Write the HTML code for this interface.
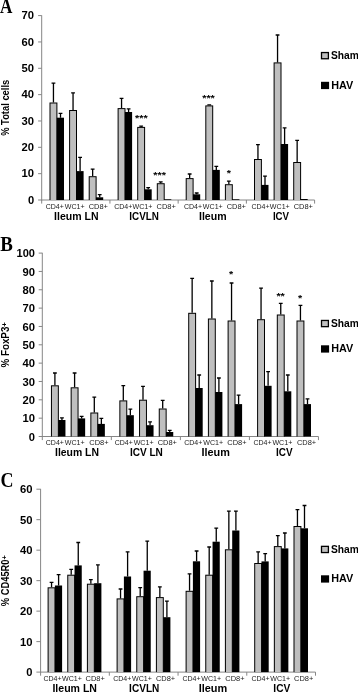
<!DOCTYPE html>
<html><head><meta charset="utf-8"><title>chart</title>
<style>html,body{margin:0;padding:0;background:#fff;overflow:hidden;}svg{display:block;will-change:transform;}</style></head>
<body><svg width="358" height="692" viewBox="0 0 358 692">
<rect width="358" height="692" fill="#fff"/>
<path d="M41.70 15.30V200.50M41.20 200.00H314.60" stroke="#868686" stroke-width="1" fill="none"/>
<path d="M38.10 200.00H41.70" stroke="#868686" stroke-width="1"/>
<text x="34.10" y="203.60" font-family="'Liberation Sans', sans-serif" font-size="10" font-weight="bold" text-anchor="end" fill="#000" textLength="6.2" lengthAdjust="spacingAndGlyphs">0</text>
<path d="M38.10 173.66H41.70" stroke="#868686" stroke-width="1"/>
<text x="34.10" y="177.26" font-family="'Liberation Sans', sans-serif" font-size="10" font-weight="bold" text-anchor="end" fill="#000" textLength="12.5" lengthAdjust="spacingAndGlyphs">10</text>
<path d="M38.10 147.31H41.70" stroke="#868686" stroke-width="1"/>
<text x="34.10" y="150.91" font-family="'Liberation Sans', sans-serif" font-size="10" font-weight="bold" text-anchor="end" fill="#000" textLength="12.5" lengthAdjust="spacingAndGlyphs">20</text>
<path d="M38.10 120.97H41.70" stroke="#868686" stroke-width="1"/>
<text x="34.10" y="124.57" font-family="'Liberation Sans', sans-serif" font-size="10" font-weight="bold" text-anchor="end" fill="#000" textLength="12.5" lengthAdjust="spacingAndGlyphs">30</text>
<path d="M38.10 94.63H41.70" stroke="#868686" stroke-width="1"/>
<text x="34.10" y="98.23" font-family="'Liberation Sans', sans-serif" font-size="10" font-weight="bold" text-anchor="end" fill="#000" textLength="12.5" lengthAdjust="spacingAndGlyphs">40</text>
<path d="M38.10 68.29H41.70" stroke="#868686" stroke-width="1"/>
<text x="34.10" y="71.89" font-family="'Liberation Sans', sans-serif" font-size="10" font-weight="bold" text-anchor="end" fill="#000" textLength="12.5" lengthAdjust="spacingAndGlyphs">50</text>
<path d="M38.10 41.94H41.70" stroke="#868686" stroke-width="1"/>
<text x="34.10" y="45.54" font-family="'Liberation Sans', sans-serif" font-size="10" font-weight="bold" text-anchor="end" fill="#000" textLength="12.5" lengthAdjust="spacingAndGlyphs">60</text>
<path d="M38.10 15.60H41.70" stroke="#868686" stroke-width="1"/>
<text x="34.10" y="19.20" font-family="'Liberation Sans', sans-serif" font-size="10" font-weight="bold" text-anchor="end" fill="#000" textLength="12.5" lengthAdjust="spacingAndGlyphs">70</text>
<path d="M41.70 200.00V203.60" stroke="#868686" stroke-width="1"/>
<path d="M109.93 200.00V203.60" stroke="#868686" stroke-width="1"/>
<path d="M178.15 200.00V203.60" stroke="#868686" stroke-width="1"/>
<path d="M246.38 200.00V203.60" stroke="#868686" stroke-width="1"/>
<path d="M314.60 200.00V203.60" stroke="#868686" stroke-width="1"/>
<g transform="translate(8.6 107.80) rotate(-90)">
<text x="0" y="0" font-family="'Liberation Sans', sans-serif" font-size="10" font-weight="bold" text-anchor="middle" textLength="56" lengthAdjust="spacingAndGlyphs">% Total cells</text>
</g>
<rect x="49.50" y="102.50" width="7.90" height="97.50" fill="#000"/>
<rect x="50.50" y="103.50" width="5.90" height="96.50" fill="#bfbfbf"/>
<rect x="56.80" y="117.70" width="7.20" height="82.30" fill="#000"/>
<path d="M53.45 102.50V82.80M51.55 83.20H55.35" stroke="#000" stroke-width="1.3" fill="none"/>
<path d="M60.50 117.70V113.00M58.60 113.40H62.40" stroke="#000" stroke-width="1.3" fill="none"/>
<rect x="69.10" y="110.00" width="7.90" height="90.00" fill="#000"/>
<rect x="70.10" y="111.00" width="5.90" height="89.00" fill="#bfbfbf"/>
<rect x="76.40" y="171.10" width="7.20" height="28.90" fill="#000"/>
<path d="M73.05 110.00V92.40M71.15 92.80H74.95" stroke="#000" stroke-width="1.3" fill="none"/>
<path d="M80.10 171.10V157.00M78.20 157.40H82.00" stroke="#000" stroke-width="1.3" fill="none"/>
<rect x="88.70" y="176.20" width="7.90" height="23.80" fill="#000"/>
<rect x="89.70" y="177.20" width="5.90" height="22.80" fill="#bfbfbf"/>
<rect x="96.00" y="197.30" width="7.20" height="2.70" fill="#000"/>
<path d="M92.65 176.20V168.80M90.75 169.20H94.55" stroke="#000" stroke-width="1.3" fill="none"/>
<path d="M99.70 197.30V194.30M97.80 194.70H101.60" stroke="#000" stroke-width="1.3" fill="none"/>
<rect x="117.60" y="108.10" width="7.90" height="91.90" fill="#000"/>
<rect x="118.60" y="109.10" width="5.90" height="90.90" fill="#bfbfbf"/>
<rect x="124.90" y="112.00" width="7.20" height="88.00" fill="#000"/>
<path d="M121.55 108.10V97.90M119.65 98.30H123.45" stroke="#000" stroke-width="1.3" fill="none"/>
<path d="M128.60 112.00V108.50M126.70 108.90H130.50" stroke="#000" stroke-width="1.3" fill="none"/>
<rect x="137.20" y="126.90" width="7.90" height="73.10" fill="#000"/>
<rect x="138.20" y="127.90" width="5.90" height="72.10" fill="#bfbfbf"/>
<rect x="144.50" y="189.30" width="7.20" height="10.70" fill="#000"/>
<path d="M141.15 126.90V125.80M139.25 126.20H143.05" stroke="#000" stroke-width="1.3" fill="none"/>
<path d="M148.20 189.30V187.20M146.30 187.60H150.10" stroke="#000" stroke-width="1.3" fill="none"/>
<rect x="156.80" y="183.20" width="7.90" height="16.80" fill="#000"/>
<rect x="157.80" y="184.20" width="5.90" height="15.80" fill="#bfbfbf"/>
<rect x="164.10" y="199.30" width="7.20" height="0.70" fill="#000"/>
<path d="M160.75 183.20V181.50M158.85 181.90H162.65" stroke="#000" stroke-width="1.3" fill="none"/>
<rect x="185.70" y="178.10" width="7.90" height="21.90" fill="#000"/>
<rect x="186.70" y="179.10" width="5.90" height="20.90" fill="#bfbfbf"/>
<rect x="193.00" y="194.30" width="7.20" height="5.70" fill="#000"/>
<path d="M189.65 178.10V173.60M187.75 174.00H191.55" stroke="#000" stroke-width="1.3" fill="none"/>
<path d="M196.70 194.30V192.60M194.80 193.00H198.60" stroke="#000" stroke-width="1.3" fill="none"/>
<rect x="205.30" y="105.40" width="7.90" height="94.60" fill="#000"/>
<rect x="206.30" y="106.40" width="5.90" height="93.60" fill="#bfbfbf"/>
<rect x="212.60" y="169.90" width="7.20" height="30.10" fill="#000"/>
<path d="M209.25 105.40V104.50M207.35 104.90H211.15" stroke="#000" stroke-width="1.3" fill="none"/>
<path d="M216.30 169.90V166.00M214.40 166.40H218.20" stroke="#000" stroke-width="1.3" fill="none"/>
<rect x="224.90" y="184.20" width="7.90" height="15.80" fill="#000"/>
<rect x="225.90" y="185.20" width="5.90" height="14.80" fill="#bfbfbf"/>
<rect x="232.20" y="199.30" width="7.20" height="0.70" fill="#000"/>
<path d="M228.85 184.20V180.80M226.95 181.20H230.75" stroke="#000" stroke-width="1.3" fill="none"/>
<rect x="254.00" y="159.00" width="7.90" height="41.00" fill="#000"/>
<rect x="255.00" y="160.00" width="5.90" height="40.00" fill="#bfbfbf"/>
<rect x="261.30" y="184.90" width="7.20" height="15.10" fill="#000"/>
<path d="M257.95 159.00V144.30M256.05 144.70H259.85" stroke="#000" stroke-width="1.3" fill="none"/>
<path d="M265.00 184.90V175.80M263.10 176.20H266.90" stroke="#000" stroke-width="1.3" fill="none"/>
<rect x="273.60" y="62.40" width="7.90" height="137.60" fill="#000"/>
<rect x="274.60" y="63.40" width="5.90" height="136.60" fill="#bfbfbf"/>
<rect x="280.90" y="144.00" width="7.20" height="56.00" fill="#000"/>
<path d="M277.55 62.40V34.60M275.65 35.00H279.45" stroke="#000" stroke-width="1.3" fill="none"/>
<path d="M284.60 144.00V127.50M282.70 127.90H286.50" stroke="#000" stroke-width="1.3" fill="none"/>
<rect x="293.20" y="162.00" width="7.90" height="38.00" fill="#000"/>
<rect x="294.20" y="163.00" width="5.90" height="37.00" fill="#bfbfbf"/>
<rect x="300.50" y="199.00" width="7.20" height="1.00" fill="#000"/>
<path d="M297.15 162.00V140.00M295.25 140.40H299.05" stroke="#000" stroke-width="1.3" fill="none"/>
<text x="54.70" y="209.15" font-family="'Liberation Sans', sans-serif" font-size="7.6" font-weight="normal" text-anchor="middle" fill="#1a1a1a" textLength="18.1" lengthAdjust="spacingAndGlyphs">CD4+</text>
<text x="74.70" y="209.15" font-family="'Liberation Sans', sans-serif" font-size="7.6" font-weight="normal" text-anchor="middle" fill="#1a1a1a" textLength="19.9" lengthAdjust="spacingAndGlyphs">WC1+</text>
<text x="98.35" y="209.15" font-family="'Liberation Sans', sans-serif" font-size="7.6" font-weight="normal" text-anchor="middle" fill="#1a1a1a" textLength="19.3" lengthAdjust="spacingAndGlyphs">CD8+</text>
<text x="76.30" y="219.55" font-family="'Liberation Sans', sans-serif" font-size="10.5" font-weight="bold" text-anchor="middle" fill="#000" textLength="44.5" lengthAdjust="spacingAndGlyphs">Ileum LN</text>
<text x="123.20" y="209.15" font-family="'Liberation Sans', sans-serif" font-size="7.6" font-weight="normal" text-anchor="middle" fill="#1a1a1a" textLength="18.1" lengthAdjust="spacingAndGlyphs">CD4+</text>
<text x="142.50" y="209.15" font-family="'Liberation Sans', sans-serif" font-size="7.6" font-weight="normal" text-anchor="middle" fill="#1a1a1a" textLength="19.9" lengthAdjust="spacingAndGlyphs">WC1+</text>
<text x="166.20" y="209.15" font-family="'Liberation Sans', sans-serif" font-size="7.6" font-weight="normal" text-anchor="middle" fill="#1a1a1a" textLength="19.3" lengthAdjust="spacingAndGlyphs">CD8+</text>
<text x="144.10" y="219.55" font-family="'Liberation Sans', sans-serif" font-size="10.5" font-weight="bold" text-anchor="middle" fill="#000" textLength="29.6" lengthAdjust="spacingAndGlyphs">ICVLN</text>
<text x="193.00" y="209.15" font-family="'Liberation Sans', sans-serif" font-size="7.6" font-weight="normal" text-anchor="middle" fill="#1a1a1a" textLength="18.1" lengthAdjust="spacingAndGlyphs">CD4+</text>
<text x="212.80" y="209.15" font-family="'Liberation Sans', sans-serif" font-size="7.6" font-weight="normal" text-anchor="middle" fill="#1a1a1a" textLength="19.9" lengthAdjust="spacingAndGlyphs">WC1+</text>
<text x="236.30" y="209.15" font-family="'Liberation Sans', sans-serif" font-size="7.6" font-weight="normal" text-anchor="middle" fill="#1a1a1a" textLength="19.3" lengthAdjust="spacingAndGlyphs">CD8+</text>
<text x="212.80" y="219.55" font-family="'Liberation Sans', sans-serif" font-size="10.5" font-weight="bold" text-anchor="middle" fill="#000" textLength="27.6" lengthAdjust="spacingAndGlyphs">Ileum</text>
<text x="260.45" y="209.15" font-family="'Liberation Sans', sans-serif" font-size="7.6" font-weight="normal" text-anchor="middle" fill="#1a1a1a" textLength="18.1" lengthAdjust="spacingAndGlyphs">CD4+</text>
<text x="279.80" y="209.15" font-family="'Liberation Sans', sans-serif" font-size="7.6" font-weight="normal" text-anchor="middle" fill="#1a1a1a" textLength="19.9" lengthAdjust="spacingAndGlyphs">WC1+</text>
<text x="303.30" y="209.15" font-family="'Liberation Sans', sans-serif" font-size="7.6" font-weight="normal" text-anchor="middle" fill="#1a1a1a" textLength="19.3" lengthAdjust="spacingAndGlyphs">CD8+</text>
<text x="281.00" y="219.55" font-family="'Liberation Sans', sans-serif" font-size="10.5" font-weight="bold" text-anchor="middle" fill="#000" textLength="16.2" lengthAdjust="spacingAndGlyphs">ICV</text>
<text x="141.30" y="121.40" font-family="'Liberation Sans', sans-serif" font-size="9" font-weight="bold" text-anchor="middle" fill="#000" textLength="12.600000000000001" lengthAdjust="spacingAndGlyphs">***</text>
<text x="159.60" y="178.40" font-family="'Liberation Sans', sans-serif" font-size="9" font-weight="bold" text-anchor="middle" fill="#000" textLength="12.600000000000001" lengthAdjust="spacingAndGlyphs">***</text>
<text x="208.50" y="100.50" font-family="'Liberation Sans', sans-serif" font-size="9" font-weight="bold" text-anchor="middle" fill="#000" textLength="12.600000000000001" lengthAdjust="spacingAndGlyphs">***</text>
<text x="228.90" y="175.60" font-family="'Liberation Sans', sans-serif" font-size="9" font-weight="bold" text-anchor="middle" fill="#000" textLength="4.2" lengthAdjust="spacingAndGlyphs">*</text>
<rect x="321.5" y="52.55" width="6.9" height="6.2" fill="#bfbfbf" stroke="#000" stroke-width="1.3"/>
<text x="331.00" y="58.80" font-family="'Liberation Sans', sans-serif" font-size="11" font-weight="bold" text-anchor="start" fill="#000" textLength="27.9" lengthAdjust="spacingAndGlyphs">Sham</text>
<rect x="321.0" y="81.80" width="8.1" height="7.3" fill="#000"/>
<text x="331.30" y="88.60" font-family="'Liberation Sans', sans-serif" font-size="11" font-weight="bold" text-anchor="start" fill="#000" textLength="22" lengthAdjust="spacingAndGlyphs">HAV</text>
<text x="0.10" y="12.75" font-family="'Liberation Serif', sans-serif" font-size="20" font-weight="bold" text-anchor="start" fill="#000" textLength="12.4" lengthAdjust="spacingAndGlyphs">A</text>
<path d="M42.30 252.80V437.00M41.80 436.50H318.45" stroke="#868686" stroke-width="1" fill="none"/>
<path d="M38.70 436.50H42.30" stroke="#868686" stroke-width="1"/>
<text x="35.00" y="440.70" font-family="'Liberation Sans', sans-serif" font-size="10" font-weight="bold" text-anchor="end" fill="#000" textLength="6.2" lengthAdjust="spacingAndGlyphs">0</text>
<path d="M38.70 418.16H42.30" stroke="#868686" stroke-width="1"/>
<text x="35.00" y="422.36" font-family="'Liberation Sans', sans-serif" font-size="10" font-weight="bold" text-anchor="end" fill="#000" textLength="12.5" lengthAdjust="spacingAndGlyphs">10</text>
<path d="M38.70 399.82H42.30" stroke="#868686" stroke-width="1"/>
<text x="35.00" y="404.02" font-family="'Liberation Sans', sans-serif" font-size="10" font-weight="bold" text-anchor="end" fill="#000" textLength="12.5" lengthAdjust="spacingAndGlyphs">20</text>
<path d="M38.70 381.48H42.30" stroke="#868686" stroke-width="1"/>
<text x="35.00" y="385.68" font-family="'Liberation Sans', sans-serif" font-size="10" font-weight="bold" text-anchor="end" fill="#000" textLength="12.5" lengthAdjust="spacingAndGlyphs">30</text>
<path d="M38.70 363.14H42.30" stroke="#868686" stroke-width="1"/>
<text x="35.00" y="367.34" font-family="'Liberation Sans', sans-serif" font-size="10" font-weight="bold" text-anchor="end" fill="#000" textLength="12.5" lengthAdjust="spacingAndGlyphs">40</text>
<path d="M38.70 344.80H42.30" stroke="#868686" stroke-width="1"/>
<text x="35.00" y="349.00" font-family="'Liberation Sans', sans-serif" font-size="10" font-weight="bold" text-anchor="end" fill="#000" textLength="12.5" lengthAdjust="spacingAndGlyphs">50</text>
<path d="M38.70 326.46H42.30" stroke="#868686" stroke-width="1"/>
<text x="35.00" y="330.66" font-family="'Liberation Sans', sans-serif" font-size="10" font-weight="bold" text-anchor="end" fill="#000" textLength="12.5" lengthAdjust="spacingAndGlyphs">60</text>
<path d="M38.70 308.12H42.30" stroke="#868686" stroke-width="1"/>
<text x="35.00" y="312.32" font-family="'Liberation Sans', sans-serif" font-size="10" font-weight="bold" text-anchor="end" fill="#000" textLength="12.5" lengthAdjust="spacingAndGlyphs">70</text>
<path d="M38.70 289.78H42.30" stroke="#868686" stroke-width="1"/>
<text x="35.00" y="293.98" font-family="'Liberation Sans', sans-serif" font-size="10" font-weight="bold" text-anchor="end" fill="#000" textLength="12.5" lengthAdjust="spacingAndGlyphs">80</text>
<path d="M38.70 271.44H42.30" stroke="#868686" stroke-width="1"/>
<text x="35.00" y="275.64" font-family="'Liberation Sans', sans-serif" font-size="10" font-weight="bold" text-anchor="end" fill="#000" textLength="12.5" lengthAdjust="spacingAndGlyphs">90</text>
<path d="M38.70 253.10H42.30" stroke="#868686" stroke-width="1"/>
<text x="35.00" y="257.30" font-family="'Liberation Sans', sans-serif" font-size="10" font-weight="bold" text-anchor="end" fill="#000" textLength="18.4" lengthAdjust="spacingAndGlyphs">100</text>
<path d="M42.30 436.50V440.10" stroke="#868686" stroke-width="1"/>
<path d="M111.34 436.50V440.10" stroke="#868686" stroke-width="1"/>
<path d="M180.38 436.50V440.10" stroke="#868686" stroke-width="1"/>
<path d="M249.41 436.50V440.10" stroke="#868686" stroke-width="1"/>
<path d="M318.45 436.50V440.10" stroke="#868686" stroke-width="1"/>
<g transform="translate(8.6 344.80) rotate(-90)">
<text x="0" y="0" font-family="'Liberation Sans', sans-serif" font-size="10" font-weight="bold" text-anchor="middle" textLength="45.5" lengthAdjust="spacingAndGlyphs">% FoxP3<tspan font-size="8" dy="-1.5">+</tspan></text>
</g>
<rect x="50.95" y="385.30" width="7.90" height="51.20" fill="#000"/>
<rect x="51.95" y="386.30" width="5.90" height="50.20" fill="#bfbfbf"/>
<rect x="58.25" y="420.00" width="7.20" height="16.50" fill="#000"/>
<path d="M54.90 385.30V372.60M53.00 373.00H56.80" stroke="#000" stroke-width="1.3" fill="none"/>
<path d="M61.95 420.00V417.40M60.05 417.80H63.85" stroke="#000" stroke-width="1.3" fill="none"/>
<rect x="70.65" y="387.30" width="7.90" height="49.20" fill="#000"/>
<rect x="71.65" y="388.30" width="5.90" height="48.20" fill="#bfbfbf"/>
<rect x="77.95" y="418.40" width="7.20" height="18.10" fill="#000"/>
<path d="M74.60 387.30V372.60M72.70 373.00H76.50" stroke="#000" stroke-width="1.3" fill="none"/>
<path d="M81.65 418.40V416.00M79.75 416.40H83.55" stroke="#000" stroke-width="1.3" fill="none"/>
<rect x="90.35" y="412.50" width="7.90" height="24.00" fill="#000"/>
<rect x="91.35" y="413.50" width="5.90" height="23.00" fill="#bfbfbf"/>
<rect x="97.65" y="423.90" width="7.20" height="12.60" fill="#000"/>
<path d="M94.30 412.50V396.70M92.40 397.10H96.20" stroke="#000" stroke-width="1.3" fill="none"/>
<path d="M101.35 423.90V417.90M99.45 418.30H103.25" stroke="#000" stroke-width="1.3" fill="none"/>
<rect x="119.35" y="400.40" width="7.90" height="36.10" fill="#000"/>
<rect x="120.35" y="401.40" width="5.90" height="35.10" fill="#bfbfbf"/>
<rect x="126.65" y="415.20" width="7.20" height="21.30" fill="#000"/>
<path d="M123.30 400.40V385.30M121.40 385.70H125.20" stroke="#000" stroke-width="1.3" fill="none"/>
<path d="M130.35 415.20V408.80M128.45 409.20H132.25" stroke="#000" stroke-width="1.3" fill="none"/>
<rect x="139.05" y="399.70" width="7.90" height="36.80" fill="#000"/>
<rect x="140.05" y="400.70" width="5.90" height="35.80" fill="#bfbfbf"/>
<rect x="146.35" y="425.20" width="7.20" height="11.30" fill="#000"/>
<path d="M143.00 399.70V386.00M141.10 386.40H144.90" stroke="#000" stroke-width="1.3" fill="none"/>
<path d="M150.05 425.20V421.50M148.15 421.90H151.95" stroke="#000" stroke-width="1.3" fill="none"/>
<rect x="158.75" y="408.50" width="7.90" height="28.00" fill="#000"/>
<rect x="159.75" y="409.50" width="5.90" height="27.00" fill="#bfbfbf"/>
<rect x="166.05" y="432.00" width="7.20" height="4.50" fill="#000"/>
<path d="M162.70 408.50V400.00M160.80 400.40H164.60" stroke="#000" stroke-width="1.3" fill="none"/>
<path d="M169.75 432.00V430.00M167.85 430.40H171.65" stroke="#000" stroke-width="1.3" fill="none"/>
<rect x="188.20" y="312.80" width="7.90" height="123.70" fill="#000"/>
<rect x="189.20" y="313.80" width="5.90" height="122.70" fill="#bfbfbf"/>
<rect x="195.50" y="388.00" width="7.20" height="48.50" fill="#000"/>
<path d="M192.15 312.80V278.00M190.25 278.40H194.05" stroke="#000" stroke-width="1.3" fill="none"/>
<path d="M199.20 388.00V374.60M197.30 375.00H201.10" stroke="#000" stroke-width="1.3" fill="none"/>
<rect x="207.90" y="318.50" width="7.90" height="118.00" fill="#000"/>
<rect x="208.90" y="319.50" width="5.90" height="117.00" fill="#bfbfbf"/>
<rect x="215.20" y="392.00" width="7.20" height="44.50" fill="#000"/>
<path d="M211.85 318.50V280.60M209.95 281.00H213.75" stroke="#000" stroke-width="1.3" fill="none"/>
<path d="M218.90 392.00V377.60M217.00 378.00H220.80" stroke="#000" stroke-width="1.3" fill="none"/>
<rect x="227.60" y="320.50" width="7.90" height="116.00" fill="#000"/>
<rect x="228.60" y="321.50" width="5.90" height="115.00" fill="#bfbfbf"/>
<rect x="234.90" y="404.10" width="7.20" height="32.40" fill="#000"/>
<path d="M231.55 320.50V282.60M229.65 283.00H233.45" stroke="#000" stroke-width="1.3" fill="none"/>
<path d="M238.60 404.10V394.70M236.70 395.10H240.50" stroke="#000" stroke-width="1.3" fill="none"/>
<rect x="257.10" y="319.20" width="7.90" height="117.30" fill="#000"/>
<rect x="258.10" y="320.20" width="5.90" height="116.30" fill="#bfbfbf"/>
<rect x="264.40" y="385.80" width="7.20" height="50.70" fill="#000"/>
<path d="M261.05 319.20V287.70M259.15 288.10H262.95" stroke="#000" stroke-width="1.3" fill="none"/>
<path d="M268.10 385.80V371.20M266.20 371.60H270.00" stroke="#000" stroke-width="1.3" fill="none"/>
<rect x="276.80" y="314.50" width="7.90" height="122.00" fill="#000"/>
<rect x="277.80" y="315.50" width="5.90" height="121.00" fill="#bfbfbf"/>
<rect x="284.10" y="391.30" width="7.20" height="45.20" fill="#000"/>
<path d="M280.75 314.50V303.00M278.85 303.40H282.65" stroke="#000" stroke-width="1.3" fill="none"/>
<path d="M287.80 391.30V374.60M285.90 375.00H289.70" stroke="#000" stroke-width="1.3" fill="none"/>
<rect x="296.50" y="320.50" width="7.90" height="116.00" fill="#000"/>
<rect x="297.50" y="321.50" width="5.90" height="115.00" fill="#bfbfbf"/>
<rect x="303.80" y="404.10" width="7.20" height="32.40" fill="#000"/>
<path d="M300.45 320.50V305.00M298.55 305.40H302.35" stroke="#000" stroke-width="1.3" fill="none"/>
<path d="M307.50 404.10V398.40M305.60 398.80H309.40" stroke="#000" stroke-width="1.3" fill="none"/>
<text x="54.85" y="445.35" font-family="'Liberation Sans', sans-serif" font-size="7.6" font-weight="normal" text-anchor="middle" fill="#1a1a1a" textLength="18.1" lengthAdjust="spacingAndGlyphs">CD4+</text>
<text x="74.75" y="445.35" font-family="'Liberation Sans', sans-serif" font-size="7.6" font-weight="normal" text-anchor="middle" fill="#1a1a1a" textLength="19.9" lengthAdjust="spacingAndGlyphs">WC1+</text>
<text x="98.95" y="445.35" font-family="'Liberation Sans', sans-serif" font-size="7.6" font-weight="normal" text-anchor="middle" fill="#1a1a1a" textLength="19.3" lengthAdjust="spacingAndGlyphs">CD8+</text>
<text x="77.00" y="455.90" font-family="'Liberation Sans', sans-serif" font-size="10.5" font-weight="bold" text-anchor="middle" fill="#000" textLength="44.0" lengthAdjust="spacingAndGlyphs">Ileum LN</text>
<text x="123.75" y="445.35" font-family="'Liberation Sans', sans-serif" font-size="7.6" font-weight="normal" text-anchor="middle" fill="#1a1a1a" textLength="18.1" lengthAdjust="spacingAndGlyphs">CD4+</text>
<text x="143.60" y="445.35" font-family="'Liberation Sans', sans-serif" font-size="7.6" font-weight="normal" text-anchor="middle" fill="#1a1a1a" textLength="19.9" lengthAdjust="spacingAndGlyphs">WC1+</text>
<text x="167.35" y="445.35" font-family="'Liberation Sans', sans-serif" font-size="7.6" font-weight="normal" text-anchor="middle" fill="#1a1a1a" textLength="19.3" lengthAdjust="spacingAndGlyphs">CD8+</text>
<text x="146.40" y="455.90" font-family="'Liberation Sans', sans-serif" font-size="10.5" font-weight="bold" text-anchor="middle" fill="#000" textLength="33.0" lengthAdjust="spacingAndGlyphs">ICV LN</text>
<text x="193.25" y="445.35" font-family="'Liberation Sans', sans-serif" font-size="7.6" font-weight="normal" text-anchor="middle" fill="#1a1a1a" textLength="18.1" lengthAdjust="spacingAndGlyphs">CD4+</text>
<text x="213.25" y="445.35" font-family="'Liberation Sans', sans-serif" font-size="7.6" font-weight="normal" text-anchor="middle" fill="#1a1a1a" textLength="19.9" lengthAdjust="spacingAndGlyphs">WC1+</text>
<text x="236.95" y="445.35" font-family="'Liberation Sans', sans-serif" font-size="7.6" font-weight="normal" text-anchor="middle" fill="#1a1a1a" textLength="19.3" lengthAdjust="spacingAndGlyphs">CD8+</text>
<text x="215.70" y="455.90" font-family="'Liberation Sans', sans-serif" font-size="10.5" font-weight="bold" text-anchor="middle" fill="#000" textLength="28.4" lengthAdjust="spacingAndGlyphs">Ileum</text>
<text x="262.45" y="445.35" font-family="'Liberation Sans', sans-serif" font-size="7.6" font-weight="normal" text-anchor="middle" fill="#1a1a1a" textLength="18.1" lengthAdjust="spacingAndGlyphs">CD4+</text>
<text x="282.35" y="445.35" font-family="'Liberation Sans', sans-serif" font-size="7.6" font-weight="normal" text-anchor="middle" fill="#1a1a1a" textLength="19.9" lengthAdjust="spacingAndGlyphs">WC1+</text>
<text x="306.55" y="445.35" font-family="'Liberation Sans', sans-serif" font-size="7.6" font-weight="normal" text-anchor="middle" fill="#1a1a1a" textLength="19.3" lengthAdjust="spacingAndGlyphs">CD8+</text>
<text x="284.40" y="455.90" font-family="'Liberation Sans', sans-serif" font-size="10.5" font-weight="bold" text-anchor="middle" fill="#000" textLength="16.6" lengthAdjust="spacingAndGlyphs">ICV</text>
<text x="231.20" y="277.10" font-family="'Liberation Sans', sans-serif" font-size="9" font-weight="bold" text-anchor="middle" fill="#000" textLength="4.2" lengthAdjust="spacingAndGlyphs">*</text>
<text x="280.60" y="298.80" font-family="'Liberation Sans', sans-serif" font-size="9" font-weight="bold" text-anchor="middle" fill="#000" textLength="8.4" lengthAdjust="spacingAndGlyphs">**</text>
<text x="300.20" y="301.10" font-family="'Liberation Sans', sans-serif" font-size="9" font-weight="bold" text-anchor="middle" fill="#000" textLength="4.2" lengthAdjust="spacingAndGlyphs">*</text>
<rect x="321.5" y="320.45" width="6.9" height="6.2" fill="#bfbfbf" stroke="#000" stroke-width="1.3"/>
<text x="331.00" y="326.70" font-family="'Liberation Sans', sans-serif" font-size="11" font-weight="bold" text-anchor="start" fill="#000" textLength="27.9" lengthAdjust="spacingAndGlyphs">Sham</text>
<rect x="321.0" y="345.30" width="8.1" height="7.3" fill="#000"/>
<text x="331.30" y="352.10" font-family="'Liberation Sans', sans-serif" font-size="11" font-weight="bold" text-anchor="start" fill="#000" textLength="22" lengthAdjust="spacingAndGlyphs">HAV</text>
<text x="0.30" y="251.10" font-family="'Liberation Serif', sans-serif" font-size="20" font-weight="bold" text-anchor="start" fill="#000" textLength="12.6" lengthAdjust="spacingAndGlyphs">B</text>
<path d="M40.60 488.90V672.60M40.10 672.10H315.50" stroke="#868686" stroke-width="1" fill="none"/>
<path d="M36.40 672.10H40.60" stroke="#868686" stroke-width="1"/>
<text x="32.50" y="676.10" font-family="'Liberation Sans', sans-serif" font-size="10" font-weight="bold" text-anchor="end" fill="#000" textLength="6.2" lengthAdjust="spacingAndGlyphs">0</text>
<path d="M36.40 641.62H40.60" stroke="#868686" stroke-width="1"/>
<text x="32.50" y="645.62" font-family="'Liberation Sans', sans-serif" font-size="10" font-weight="bold" text-anchor="end" fill="#000" textLength="12.5" lengthAdjust="spacingAndGlyphs">10</text>
<path d="M36.40 611.13H40.60" stroke="#868686" stroke-width="1"/>
<text x="32.50" y="615.13" font-family="'Liberation Sans', sans-serif" font-size="10" font-weight="bold" text-anchor="end" fill="#000" textLength="12.5" lengthAdjust="spacingAndGlyphs">20</text>
<path d="M36.40 580.65H40.60" stroke="#868686" stroke-width="1"/>
<text x="32.50" y="584.65" font-family="'Liberation Sans', sans-serif" font-size="10" font-weight="bold" text-anchor="end" fill="#000" textLength="12.5" lengthAdjust="spacingAndGlyphs">30</text>
<path d="M36.40 550.17H40.60" stroke="#868686" stroke-width="1"/>
<text x="32.50" y="554.17" font-family="'Liberation Sans', sans-serif" font-size="10" font-weight="bold" text-anchor="end" fill="#000" textLength="12.5" lengthAdjust="spacingAndGlyphs">40</text>
<path d="M36.40 519.68H40.60" stroke="#868686" stroke-width="1"/>
<text x="32.50" y="523.68" font-family="'Liberation Sans', sans-serif" font-size="10" font-weight="bold" text-anchor="end" fill="#000" textLength="12.5" lengthAdjust="spacingAndGlyphs">50</text>
<path d="M36.40 489.20H40.60" stroke="#868686" stroke-width="1"/>
<text x="32.50" y="493.20" font-family="'Liberation Sans', sans-serif" font-size="10" font-weight="bold" text-anchor="end" fill="#000" textLength="12.5" lengthAdjust="spacingAndGlyphs">60</text>
<path d="M40.60 672.10V675.70" stroke="#868686" stroke-width="1"/>
<path d="M109.32 672.10V675.70" stroke="#868686" stroke-width="1"/>
<path d="M178.05 672.10V675.70" stroke="#868686" stroke-width="1"/>
<path d="M246.77 672.10V675.70" stroke="#868686" stroke-width="1"/>
<path d="M315.50 672.10V675.70" stroke="#868686" stroke-width="1"/>
<g transform="translate(8.6 580.65) rotate(-90)">
<text x="0" y="0" font-family="'Liberation Sans', sans-serif" font-size="10" font-weight="bold" text-anchor="middle" textLength="51.0" lengthAdjust="spacingAndGlyphs">% CD45R0<tspan font-size="8" dy="-1.5">+</tspan></text>
</g>
<rect x="47.60" y="587.30" width="7.90" height="84.80" fill="#000"/>
<rect x="48.60" y="588.30" width="5.90" height="83.80" fill="#bfbfbf"/>
<rect x="54.90" y="585.50" width="7.20" height="86.60" fill="#000"/>
<path d="M51.55 587.30V581.90M49.65 582.30H53.45" stroke="#000" stroke-width="1.3" fill="none"/>
<path d="M58.60 585.50V574.30M56.70 574.70H60.50" stroke="#000" stroke-width="1.3" fill="none"/>
<rect x="67.25" y="574.70" width="7.90" height="97.40" fill="#000"/>
<rect x="68.25" y="575.70" width="5.90" height="96.40" fill="#bfbfbf"/>
<rect x="74.55" y="565.40" width="7.20" height="106.70" fill="#000"/>
<path d="M71.20 574.70V568.90M69.30 569.30H73.10" stroke="#000" stroke-width="1.3" fill="none"/>
<path d="M78.25 565.40V542.10M76.35 542.50H80.15" stroke="#000" stroke-width="1.3" fill="none"/>
<rect x="86.90" y="583.70" width="7.90" height="88.40" fill="#000"/>
<rect x="87.90" y="584.70" width="5.90" height="87.40" fill="#bfbfbf"/>
<rect x="94.20" y="583.20" width="7.20" height="88.90" fill="#000"/>
<path d="M90.85 583.70V579.20M88.95 579.60H92.75" stroke="#000" stroke-width="1.3" fill="none"/>
<path d="M97.90 583.20V564.50M96.00 564.90H99.80" stroke="#000" stroke-width="1.3" fill="none"/>
<rect x="116.60" y="598.40" width="7.90" height="73.70" fill="#000"/>
<rect x="117.60" y="599.40" width="5.90" height="72.70" fill="#bfbfbf"/>
<rect x="123.90" y="576.50" width="7.20" height="95.60" fill="#000"/>
<path d="M120.55 598.40V588.60M118.65 589.00H122.45" stroke="#000" stroke-width="1.3" fill="none"/>
<path d="M127.60 576.50V551.50M125.70 551.90H129.50" stroke="#000" stroke-width="1.3" fill="none"/>
<rect x="136.25" y="596.20" width="7.90" height="75.90" fill="#000"/>
<rect x="137.25" y="597.20" width="5.90" height="74.90" fill="#bfbfbf"/>
<rect x="143.55" y="570.70" width="7.20" height="101.40" fill="#000"/>
<path d="M140.20 596.20V587.30M138.30 587.70H142.10" stroke="#000" stroke-width="1.3" fill="none"/>
<path d="M147.25 570.70V540.80M145.35 541.20H149.15" stroke="#000" stroke-width="1.3" fill="none"/>
<rect x="155.90" y="597.10" width="7.90" height="75.00" fill="#000"/>
<rect x="156.90" y="598.10" width="5.90" height="74.00" fill="#bfbfbf"/>
<rect x="163.20" y="617.20" width="7.20" height="54.90" fill="#000"/>
<path d="M159.85 597.10V586.40M157.95 586.80H161.75" stroke="#000" stroke-width="1.3" fill="none"/>
<path d="M166.90 617.20V600.70M165.00 601.10H168.80" stroke="#000" stroke-width="1.3" fill="none"/>
<rect x="185.60" y="590.80" width="7.90" height="81.30" fill="#000"/>
<rect x="186.60" y="591.80" width="5.90" height="80.30" fill="#bfbfbf"/>
<rect x="192.90" y="561.30" width="7.20" height="110.80" fill="#000"/>
<path d="M189.55 590.80V573.40M187.65 573.80H191.45" stroke="#000" stroke-width="1.3" fill="none"/>
<path d="M196.60 561.30V550.60M194.70 551.00H198.50" stroke="#000" stroke-width="1.3" fill="none"/>
<rect x="205.25" y="574.70" width="7.90" height="97.40" fill="#000"/>
<rect x="206.25" y="575.70" width="5.90" height="96.40" fill="#bfbfbf"/>
<rect x="212.55" y="541.70" width="7.20" height="130.40" fill="#000"/>
<path d="M209.20 574.70V546.60M207.30 547.00H211.10" stroke="#000" stroke-width="1.3" fill="none"/>
<path d="M216.25 541.70V527.80M214.35 528.20H218.15" stroke="#000" stroke-width="1.3" fill="none"/>
<rect x="224.90" y="549.30" width="7.90" height="122.80" fill="#000"/>
<rect x="225.90" y="550.30" width="5.90" height="121.80" fill="#bfbfbf"/>
<rect x="232.20" y="530.50" width="7.20" height="141.60" fill="#000"/>
<path d="M228.85 549.30V510.80M226.95 511.20H230.75" stroke="#000" stroke-width="1.3" fill="none"/>
<path d="M235.90 530.50V510.80M234.00 511.20H237.80" stroke="#000" stroke-width="1.3" fill="none"/>
<rect x="254.20" y="563.00" width="7.90" height="109.10" fill="#000"/>
<rect x="255.20" y="564.00" width="5.90" height="108.10" fill="#bfbfbf"/>
<rect x="261.50" y="561.40" width="7.20" height="110.70" fill="#000"/>
<path d="M258.15 563.00V551.50M256.25 551.90H260.05" stroke="#000" stroke-width="1.3" fill="none"/>
<path d="M265.20 561.40V553.30M263.30 553.70H267.10" stroke="#000" stroke-width="1.3" fill="none"/>
<rect x="273.85" y="546.10" width="7.90" height="126.00" fill="#000"/>
<rect x="274.85" y="547.10" width="5.90" height="125.00" fill="#bfbfbf"/>
<rect x="281.15" y="548.40" width="7.20" height="123.70" fill="#000"/>
<path d="M277.80 546.10V535.30M275.90 535.70H279.70" stroke="#000" stroke-width="1.3" fill="none"/>
<path d="M284.85 548.40V532.60M282.95 533.00H286.75" stroke="#000" stroke-width="1.3" fill="none"/>
<rect x="293.50" y="526.00" width="7.90" height="146.10" fill="#000"/>
<rect x="294.50" y="527.00" width="5.90" height="145.10" fill="#bfbfbf"/>
<rect x="300.80" y="528.30" width="7.20" height="143.80" fill="#000"/>
<path d="M297.45 526.00V509.30M295.55 509.70H299.35" stroke="#000" stroke-width="1.3" fill="none"/>
<path d="M304.50 528.30V505.10M302.60 505.50H306.40" stroke="#000" stroke-width="1.3" fill="none"/>
<text x="52.45" y="681.40" font-family="'Liberation Sans', sans-serif" font-size="7.6" font-weight="normal" text-anchor="middle" fill="#1a1a1a" textLength="18.1" lengthAdjust="spacingAndGlyphs">CD4+</text>
<text x="71.95" y="681.40" font-family="'Liberation Sans', sans-serif" font-size="7.6" font-weight="normal" text-anchor="middle" fill="#1a1a1a" textLength="19.9" lengthAdjust="spacingAndGlyphs">WC1+</text>
<text x="95.15" y="681.40" font-family="'Liberation Sans', sans-serif" font-size="7.6" font-weight="normal" text-anchor="middle" fill="#1a1a1a" textLength="19.3" lengthAdjust="spacingAndGlyphs">CD8+</text>
<text x="74.70" y="691.90" font-family="'Liberation Sans', sans-serif" font-size="10.5" font-weight="bold" text-anchor="middle" fill="#000" textLength="44.6" lengthAdjust="spacingAndGlyphs">Ileum LN</text>
<text x="122.25" y="681.40" font-family="'Liberation Sans', sans-serif" font-size="7.6" font-weight="normal" text-anchor="middle" fill="#1a1a1a" textLength="18.1" lengthAdjust="spacingAndGlyphs">CD4+</text>
<text x="142.00" y="681.40" font-family="'Liberation Sans', sans-serif" font-size="7.6" font-weight="normal" text-anchor="middle" fill="#1a1a1a" textLength="19.9" lengthAdjust="spacingAndGlyphs">WC1+</text>
<text x="165.55" y="681.40" font-family="'Liberation Sans', sans-serif" font-size="7.6" font-weight="normal" text-anchor="middle" fill="#1a1a1a" textLength="19.3" lengthAdjust="spacingAndGlyphs">CD8+</text>
<text x="144.20" y="691.90" font-family="'Liberation Sans', sans-serif" font-size="10.5" font-weight="bold" text-anchor="middle" fill="#000" textLength="30.2" lengthAdjust="spacingAndGlyphs">ICVLN</text>
<text x="191.50" y="681.40" font-family="'Liberation Sans', sans-serif" font-size="7.6" font-weight="normal" text-anchor="middle" fill="#1a1a1a" textLength="18.1" lengthAdjust="spacingAndGlyphs">CD4+</text>
<text x="211.20" y="681.40" font-family="'Liberation Sans', sans-serif" font-size="7.6" font-weight="normal" text-anchor="middle" fill="#1a1a1a" textLength="19.9" lengthAdjust="spacingAndGlyphs">WC1+</text>
<text x="234.95" y="681.40" font-family="'Liberation Sans', sans-serif" font-size="7.6" font-weight="normal" text-anchor="middle" fill="#1a1a1a" textLength="19.3" lengthAdjust="spacingAndGlyphs">CD8+</text>
<text x="213.00" y="691.90" font-family="'Liberation Sans', sans-serif" font-size="10.5" font-weight="bold" text-anchor="middle" fill="#000" textLength="28.6" lengthAdjust="spacingAndGlyphs">Ileum</text>
<text x="260.45" y="681.40" font-family="'Liberation Sans', sans-serif" font-size="7.6" font-weight="normal" text-anchor="middle" fill="#1a1a1a" textLength="18.1" lengthAdjust="spacingAndGlyphs">CD4+</text>
<text x="280.15" y="681.40" font-family="'Liberation Sans', sans-serif" font-size="7.6" font-weight="normal" text-anchor="middle" fill="#1a1a1a" textLength="19.9" lengthAdjust="spacingAndGlyphs">WC1+</text>
<text x="303.75" y="681.40" font-family="'Liberation Sans', sans-serif" font-size="7.6" font-weight="normal" text-anchor="middle" fill="#1a1a1a" textLength="19.3" lengthAdjust="spacingAndGlyphs">CD8+</text>
<text x="281.80" y="691.90" font-family="'Liberation Sans', sans-serif" font-size="10.5" font-weight="bold" text-anchor="middle" fill="#000" textLength="17.0" lengthAdjust="spacingAndGlyphs">ICV</text>
<rect x="321.5" y="546.35" width="6.9" height="6.2" fill="#bfbfbf" stroke="#000" stroke-width="1.3"/>
<text x="331.00" y="552.60" font-family="'Liberation Sans', sans-serif" font-size="11" font-weight="bold" text-anchor="start" fill="#000" textLength="27.9" lengthAdjust="spacingAndGlyphs">Sham</text>
<rect x="321.0" y="575.30" width="8.1" height="7.3" fill="#000"/>
<text x="331.30" y="582.10" font-family="'Liberation Sans', sans-serif" font-size="11" font-weight="bold" text-anchor="start" fill="#000" textLength="22" lengthAdjust="spacingAndGlyphs">HAV</text>
<text x="0.40" y="487.00" font-family="'Liberation Serif', sans-serif" font-size="20" font-weight="bold" text-anchor="start" fill="#000" textLength="13.0" lengthAdjust="spacingAndGlyphs">C</text>
</svg></body></html>
